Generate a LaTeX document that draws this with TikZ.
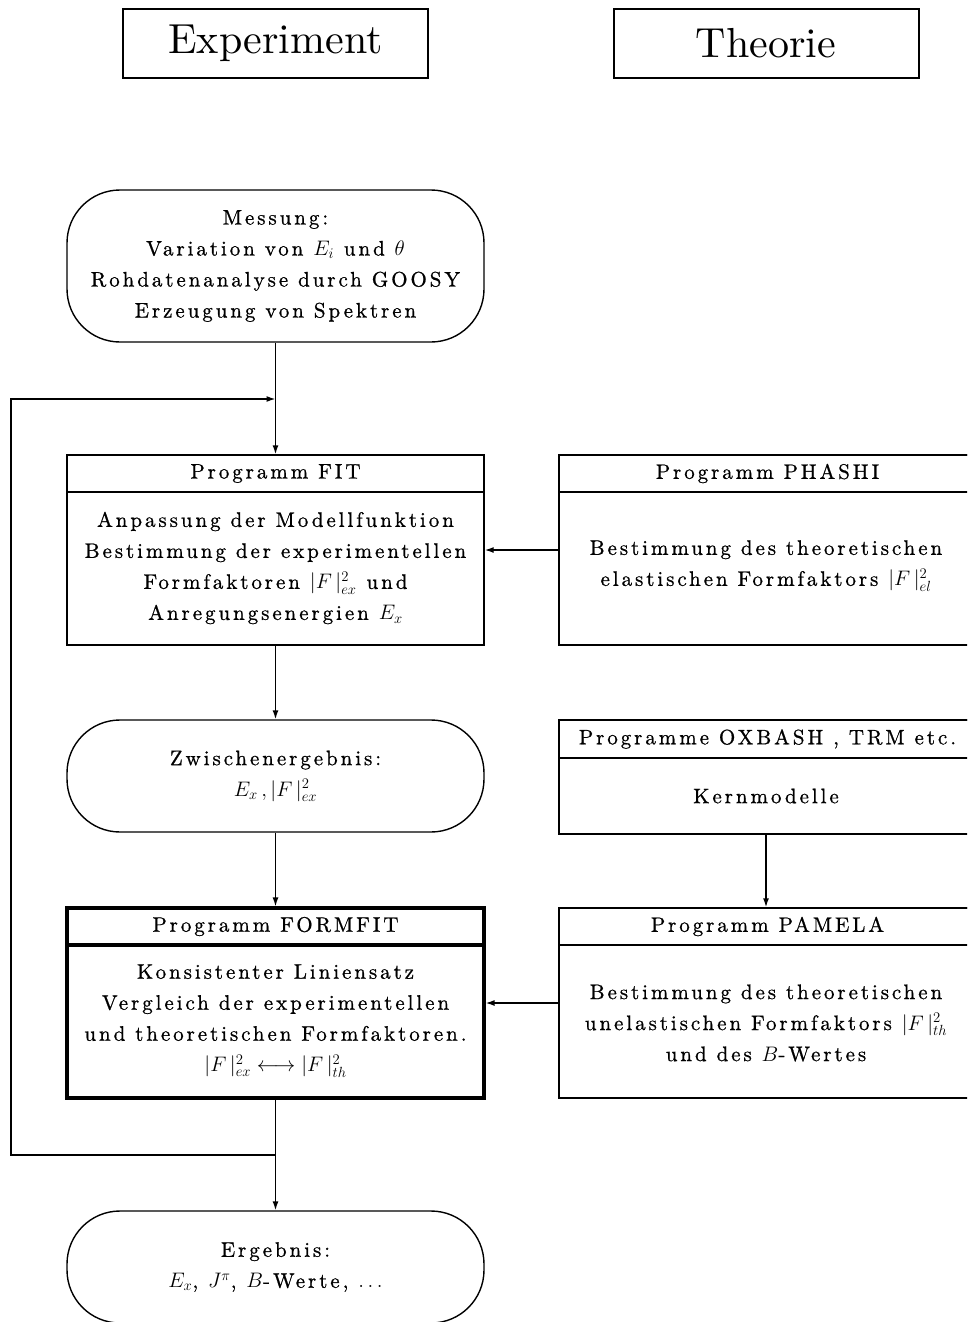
\RequirePackage{fix-cm}
\documentclass[tikz,border=0pt]{standalone}
\usepackage{amsmath}
\usepackage{fontspec}
\setmainfont{lmroman10-regular.otf}[LetterSpace=14,FakeBold=0.8]
\newfontfamily\headfont{lmroman10-regular.otf}
\usepackage{tikz}
\usetikzlibrary{arrows.meta,positioning}

\newcommand{\ff}[1]{|F\,|^2_{#1}}

\tikzset{
  flow/.style={line width=1.4pt,-{Latex[length=9pt,width=6pt]}},
  link/.style={line width=1.4pt},
  titlebox/.style={draw,line width=2pt,minimum width=305pt,minimum height=69pt,font=\headfont\fontsize{42}{48}\selectfont},
  roundbox/.style={draw,line width=1.4pt,rounded corners=53pt,minimum width=417pt,align=center},
  progbox/.style={draw,line width=1.4pt,minimum width=417pt,minimum height=190pt},
  progtitle/.style={draw,line width=1.4pt,minimum width=417pt,minimum height=37pt,anchor=north},
  bodytext/.style={align=center},
}

\begin{document}
\fontsize{21}{31}\selectfont
\begin{tikzpicture}[x=1pt,y=-1pt]
  \useasboundingbox (0,0) rectangle (967,1322);
  \clip (0,0) rectangle (967,1322);
  % headings
  \node[titlebox] (exp) at (275.5,43.5) {Experiment};
  \node[titlebox] (theo) at (766,43.5) {Theorie};
  % left column
  \node[roundbox,minimum height=152pt] (mess) at (275.5,266) {Messung:\\ Variation von $E_i$ und $\theta$\\ Rohdatenanalyse durch GOOSY\\ Erzeugung von Spektren};
  \node[progbox] (fit) at (275.5,550) {};
  \node[progtitle] (fith) at (fit.north) {Programm FIT};
  \node[bodytext] (fitb) at (275.5,568) {Anpassung der Modellfunktion\\ Bestimmung der experimentellen\\ Formfaktoren $\ff{ex}$ und\\ Anregungsenergien $E_x$};
  \node[roundbox,minimum height=112pt] (zw) at (275.5,776) {Zwischenergebnis:\\ $E_x\,, \ff{ex}$};
  \node[progbox,line width=3.2pt] (ffit) at (275.5,1003) {};
  \node[progtitle,line width=3.2pt] (ffith) at (ffit.north) {Programm FORMFIT};
  \node[bodytext] (ffitb) at (275.5,1021) {Konsistenter Liniensatz\\ Vergleich der experimentellen\\ und theoretischen Formfaktoren.\\ $\ff{ex}\longleftrightarrow\ff{th}$};
  \node[roundbox,minimum height=112pt] (erg) at (275.5,1267) {Ergebnis:\\ $E_x$, $J^\pi$, $B$-Werte, $\ldots$};
  % right column
  \node[progbox] (phashi) at (767.5,550) {};
  \node[progtitle] (phashih) at (phashi.north) {Programm PHASHI};
  \node[bodytext] (phashib) at (766,566) {Bestimmung des theoretischen\\ elastischen Formfaktors $\ff{el}$};
  \node[progbox,minimum height=114pt] (oxb) at (767.5,777) {};
  \node[progtitle,minimum height=38pt] (oxbh) at (oxb.north) {Programme OXBASH , TRM etc.};
  \node[bodytext] (oxbb) at (766,796) {Kernmodelle};
  \node[progbox] (pam) at (767.5,1003) {};
  \node[progtitle] (pamh) at (pam.north) {Programm PAMELA};
  \node[bodytext] (pamb) at (766,1023) {Bestimmung des theoretischen\\ unelastischen Formfaktors $\ff{th}$\\ und des $B$-Wertes};
  % connectors
  \coordinate (jtop) at (275.5,399);
  \coordinate (jbot) at (275.5,1155);
  \coordinate (lp) at (11,399);
  \draw[flow] (mess.south) -- (fit.north);
  \draw[flow] (fit.south) -- (zw.north);
  \draw[flow] (zw.south) -- (ffit.north);
  \draw[flow] (ffit.south) -- (erg.north);
  \draw[flow] (jbot) -| (lp) -- (jtop);
  \draw[flow] (phashi.west) -- (fit.east);
  \draw[flow] (oxb.south -| 766,0) -- (pam.north -| 766,0);
  \draw[flow] (pam.west) -- (ffit.east);
\end{tikzpicture}
\end{document}
